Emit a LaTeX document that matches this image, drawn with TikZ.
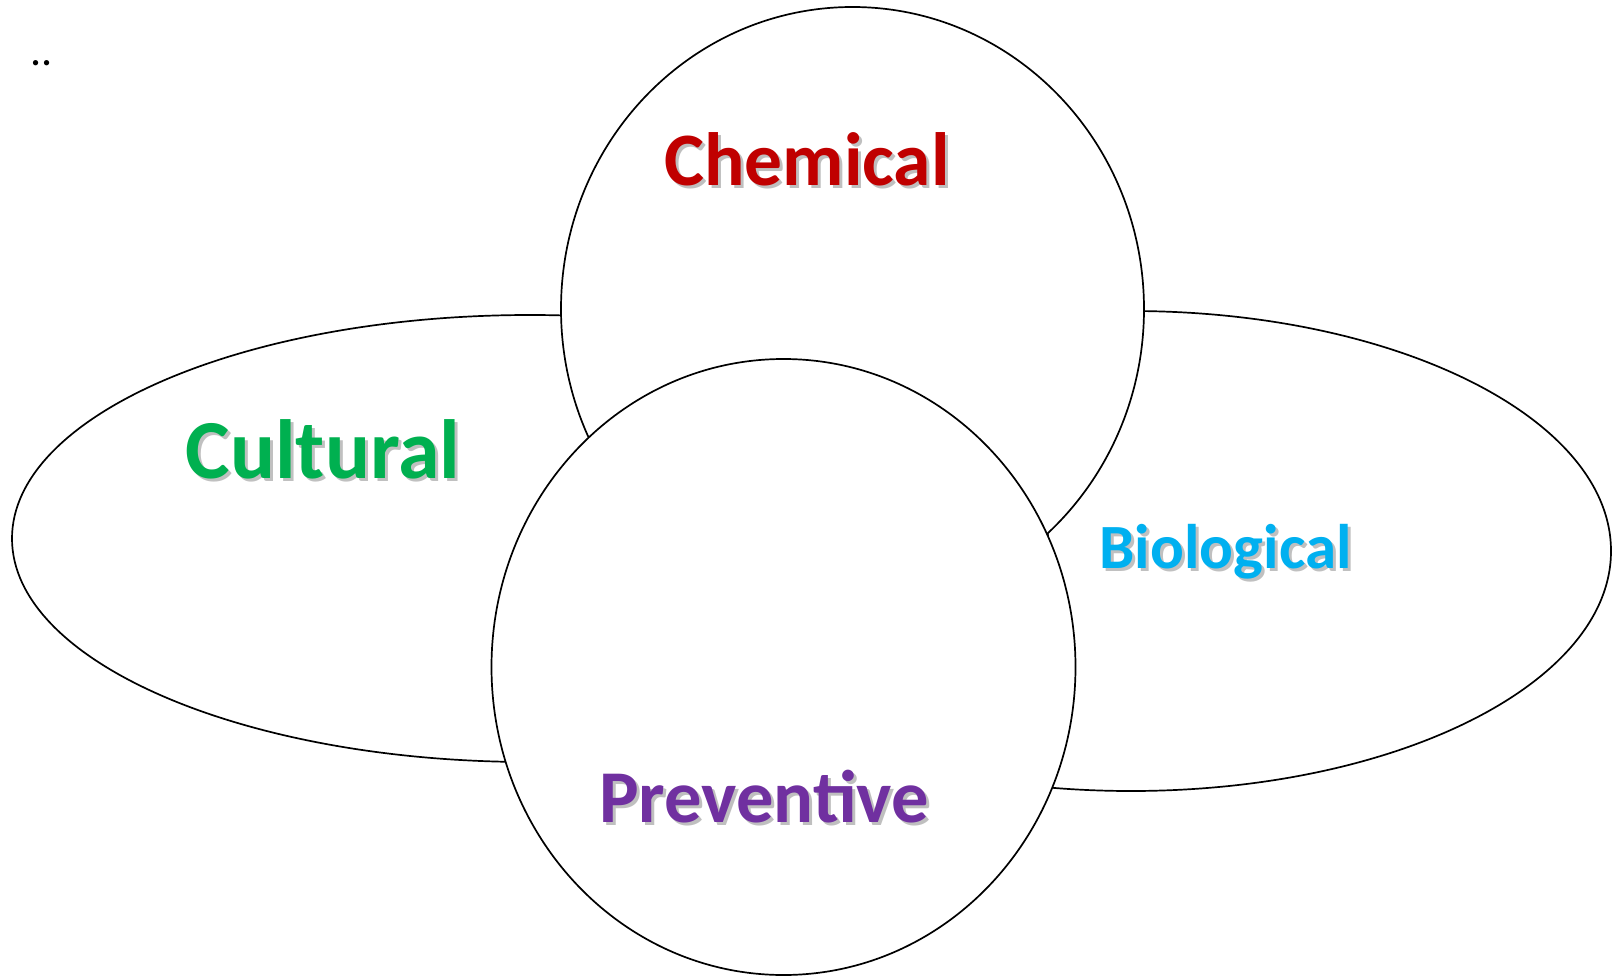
\documentclass[tikz,border=0pt]{standalone}
\usepackage{fontspec}
\setmainfont{Carlito}
\definecolor{chem}{HTML}{C00000}
\definecolor{cult}{HTML}{00B050}
\definecolor{bio}{HTML}{00B0F0}
\definecolor{prev}{HTML}{7030A0}
\tikzset{
  shapeline/.style={draw=black, line width=1.7pt},
  filled/.style={shapeline, fill=white},
  lbl/.style={anchor=base, inner sep=0pt, font=\bfseries},
  shadowtxt/.style={lbl, text=black!55, opacity=0.45},
}
\newcommand{\shadowlabel}[5]{%
  \node[shadowtxt, font=\bfseries\fontsize{#4}{#4}\selectfont] at ([xshift=3pt,yshift=-3pt]#2) {#5};
  \node[lbl, text=#3, font=\bfseries\fontsize{#4}{#4}\selectfont] (#1) at (#2) {#5};
}
\begin{document}
\begin{tikzpicture}[x=1pt,y=-1pt]
\useasboundingbox (0,0) rectangle (1612,977);
% ellipses
\draw[shapeline] (530,538.5) ellipse [x radius=518, y radius=223.5];
\draw[shapeline] (1131,551) ellipse [x radius=480, y radius=240];
% circles
\draw[filled] (852.5,309) ellipse [x radius=291.5, y radius=302];
\draw[filled] (783.5,667) ellipse [x radius=292, y radius=308];
% labels
\shadowlabel{chemical}{807,185}{chem}{75.5}{Chemical}
\shadowlabel{cultural}{323,478}{cult}{84}{Cultural}
\shadowlabel{biological}{1225.5,568.5}{bio}{63}{Biological}
\shadowlabel{preventive}{764,822.5}{prev}{74.5}{Preventive}
\node[lbl, font=\fontsize{44}{44}\selectfont] (dots) at (42,65) {..};
\end{tikzpicture}
\end{document}
